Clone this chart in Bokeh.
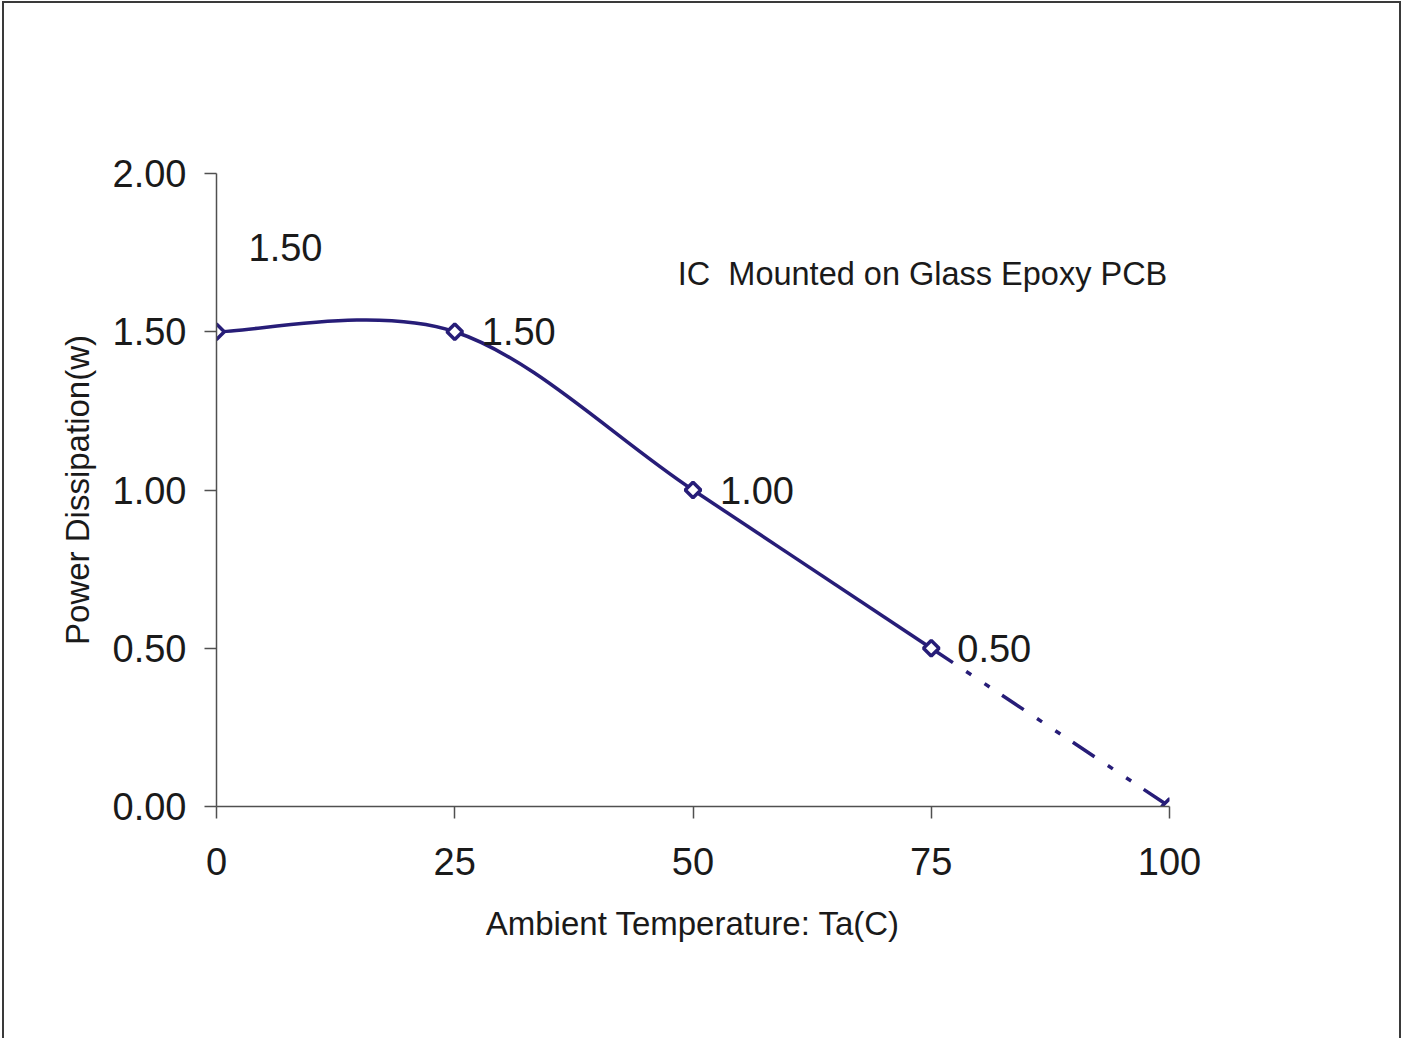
import numpy as np
from bokeh.plotting import figure
from bokeh.models import Range1d, FixedTicker, NumeralTickFormatter, ColumnDataSource, Label
from bokeh.core.properties import value
from bokeh.embed import file_html
from bokeh.resources import INLINE

# ---- data ----
temperature = [0, 25, 50, 75, 100]
power = [1.50, 1.50, 1.00, 0.50, 0.00]
label_texts = ["1.50", "1.50", "1.00", "0.50"]
x_ticks = [0, 25, 50, 75, 100]
y_ticks = [0.0, 0.5, 1.0, 1.5, 2.0]
note_text = "IC\u00a0 Mounted on Glass Epoxy PCB"
x_title = "Ambient Temperature: Ta(C)"
y_title = "Power Dissipation(w)"

# ---- style ----
NAVY = "#271d78"
TXT = "#1a1a1a"
AXC = "#505050"
FONT = "Liberation Sans"
label_dx = [32, 27, 27, 26]
label_dy = [-84, 0, 0, 0]
W, H = 1399, 1037

p = figure(width=W, height=H, output_backend="svg", toolbar_location=None,
           x_range=Range1d(0, 100), y_range=Range1d(0, 2),
           min_border_left=212, min_border_right=234,
           min_border_top=170, min_border_bottom=234)
p.styles = {"margin-left": "2px", "margin-top": "1px",
            "border-left": "2px solid #3a3a3a", "border-top": "2px solid #3a3a3a",
            "border-right": "2px solid #3a3a3a"}
p.background_fill_color = "white"
p.border_fill_color = "white"
p.outline_line_color = None
p.xgrid.visible = False
p.ygrid.visible = False

for ax in (p.xaxis[0], p.yaxis[0]):
    ax.axis_line_color = AXC
    ax.axis_line_width = 1.5
    ax.major_tick_line_color = AXC
    ax.major_tick_line_width = 1.5
    ax.major_tick_in = 0
    ax.major_tick_out = 12
    ax.minor_tick_line_color = None
    ax.major_label_text_font = FONT
    ax.major_label_text_font_size = "38px"
    ax.major_label_text_color = TXT
    ax.axis_label_text_font = FONT
    ax.axis_label_text_font_size = "33px"
    ax.axis_label_text_font_style = "normal"
    ax.axis_label_text_color = TXT

p.xaxis.ticker = FixedTicker(ticks=x_ticks)
p.yaxis.ticker = FixedTicker(ticks=y_ticks)
p.yaxis.formatter = NumeralTickFormatter(format="0.00")
p.xaxis.major_label_standoff = 29
p.yaxis.major_label_standoff = 18
p.xaxis.axis_label = x_title
p.yaxis.axis_label = y_title
p.xaxis.axis_label_standoff = 27
p.yaxis.axis_label_standoff = 14

# ---- smoothed solid line (Catmull-Rom Bezier through first four points) ----
xs = np.array(temperature[:4], dtype=float)
ys = np.array(power[:4], dtype=float)
n = len(xs)
seg = dict(x0=[], y0=[], x1=[], y1=[], cx0=[], cy0=[], cx1=[], cy1=[])
for i in range(n - 1):
    a = max(i - 1, 0)
    d = min(i + 2, n - 1)
    seg["x0"].append(xs[i]); seg["y0"].append(ys[i])
    seg["x1"].append(xs[i + 1]); seg["y1"].append(ys[i + 1])
    seg["cx0"].append(xs[i] + (xs[i + 1] - xs[a]) / 6.0)
    seg["cy0"].append(ys[i] + (ys[i + 1] - ys[a]) / 6.0)
    seg["cx1"].append(xs[i + 1] - (xs[d] - xs[i]) / 6.0)
    seg["cy1"].append(ys[i + 1] - (ys[d] - ys[i]) / 6.0)
p.bezier(x0="x0", y0="y0", x1="x1", y1="y1", cx0="cx0", cy0="cy0", cx1="cx1", cy1="cy1",
         source=ColumnDataSource(seg), line_color=NAVY, line_width=3.5)

# ---- dashed extension ----
p.line(temperature[3:], power[3:], line_color=NAVY, line_width=3.5,
       line_dash="26 16 6 16 6 15")

# ---- markers ----
p.scatter(temperature, power, marker="square", angle=np.pi / 4, size=11,
          fill_color="white", line_color=NAVY, line_width=3.5)

# ---- data labels ----
lab_src = ColumnDataSource(dict(x=temperature[:4], y=power[:4], t=label_texts,
                                dx=label_dx, dy=label_dy))
p.text(x="x", y="y", text="t", x_offset="dx", y_offset="dy", source=lab_src,
       text_font=value(FONT), text_font_size="38px", text_color=TXT,
       text_baseline="middle", text_align="left")

# ---- note ----
p.add_layout(Label(x=48.4, y=1.684, text=note_text, text_font=FONT,
                   text_font_size="32.5px", text_color=TXT, text_baseline="middle",
                   text_align="left"))

open("out.html", "w").write(file_html(p, INLINE))
